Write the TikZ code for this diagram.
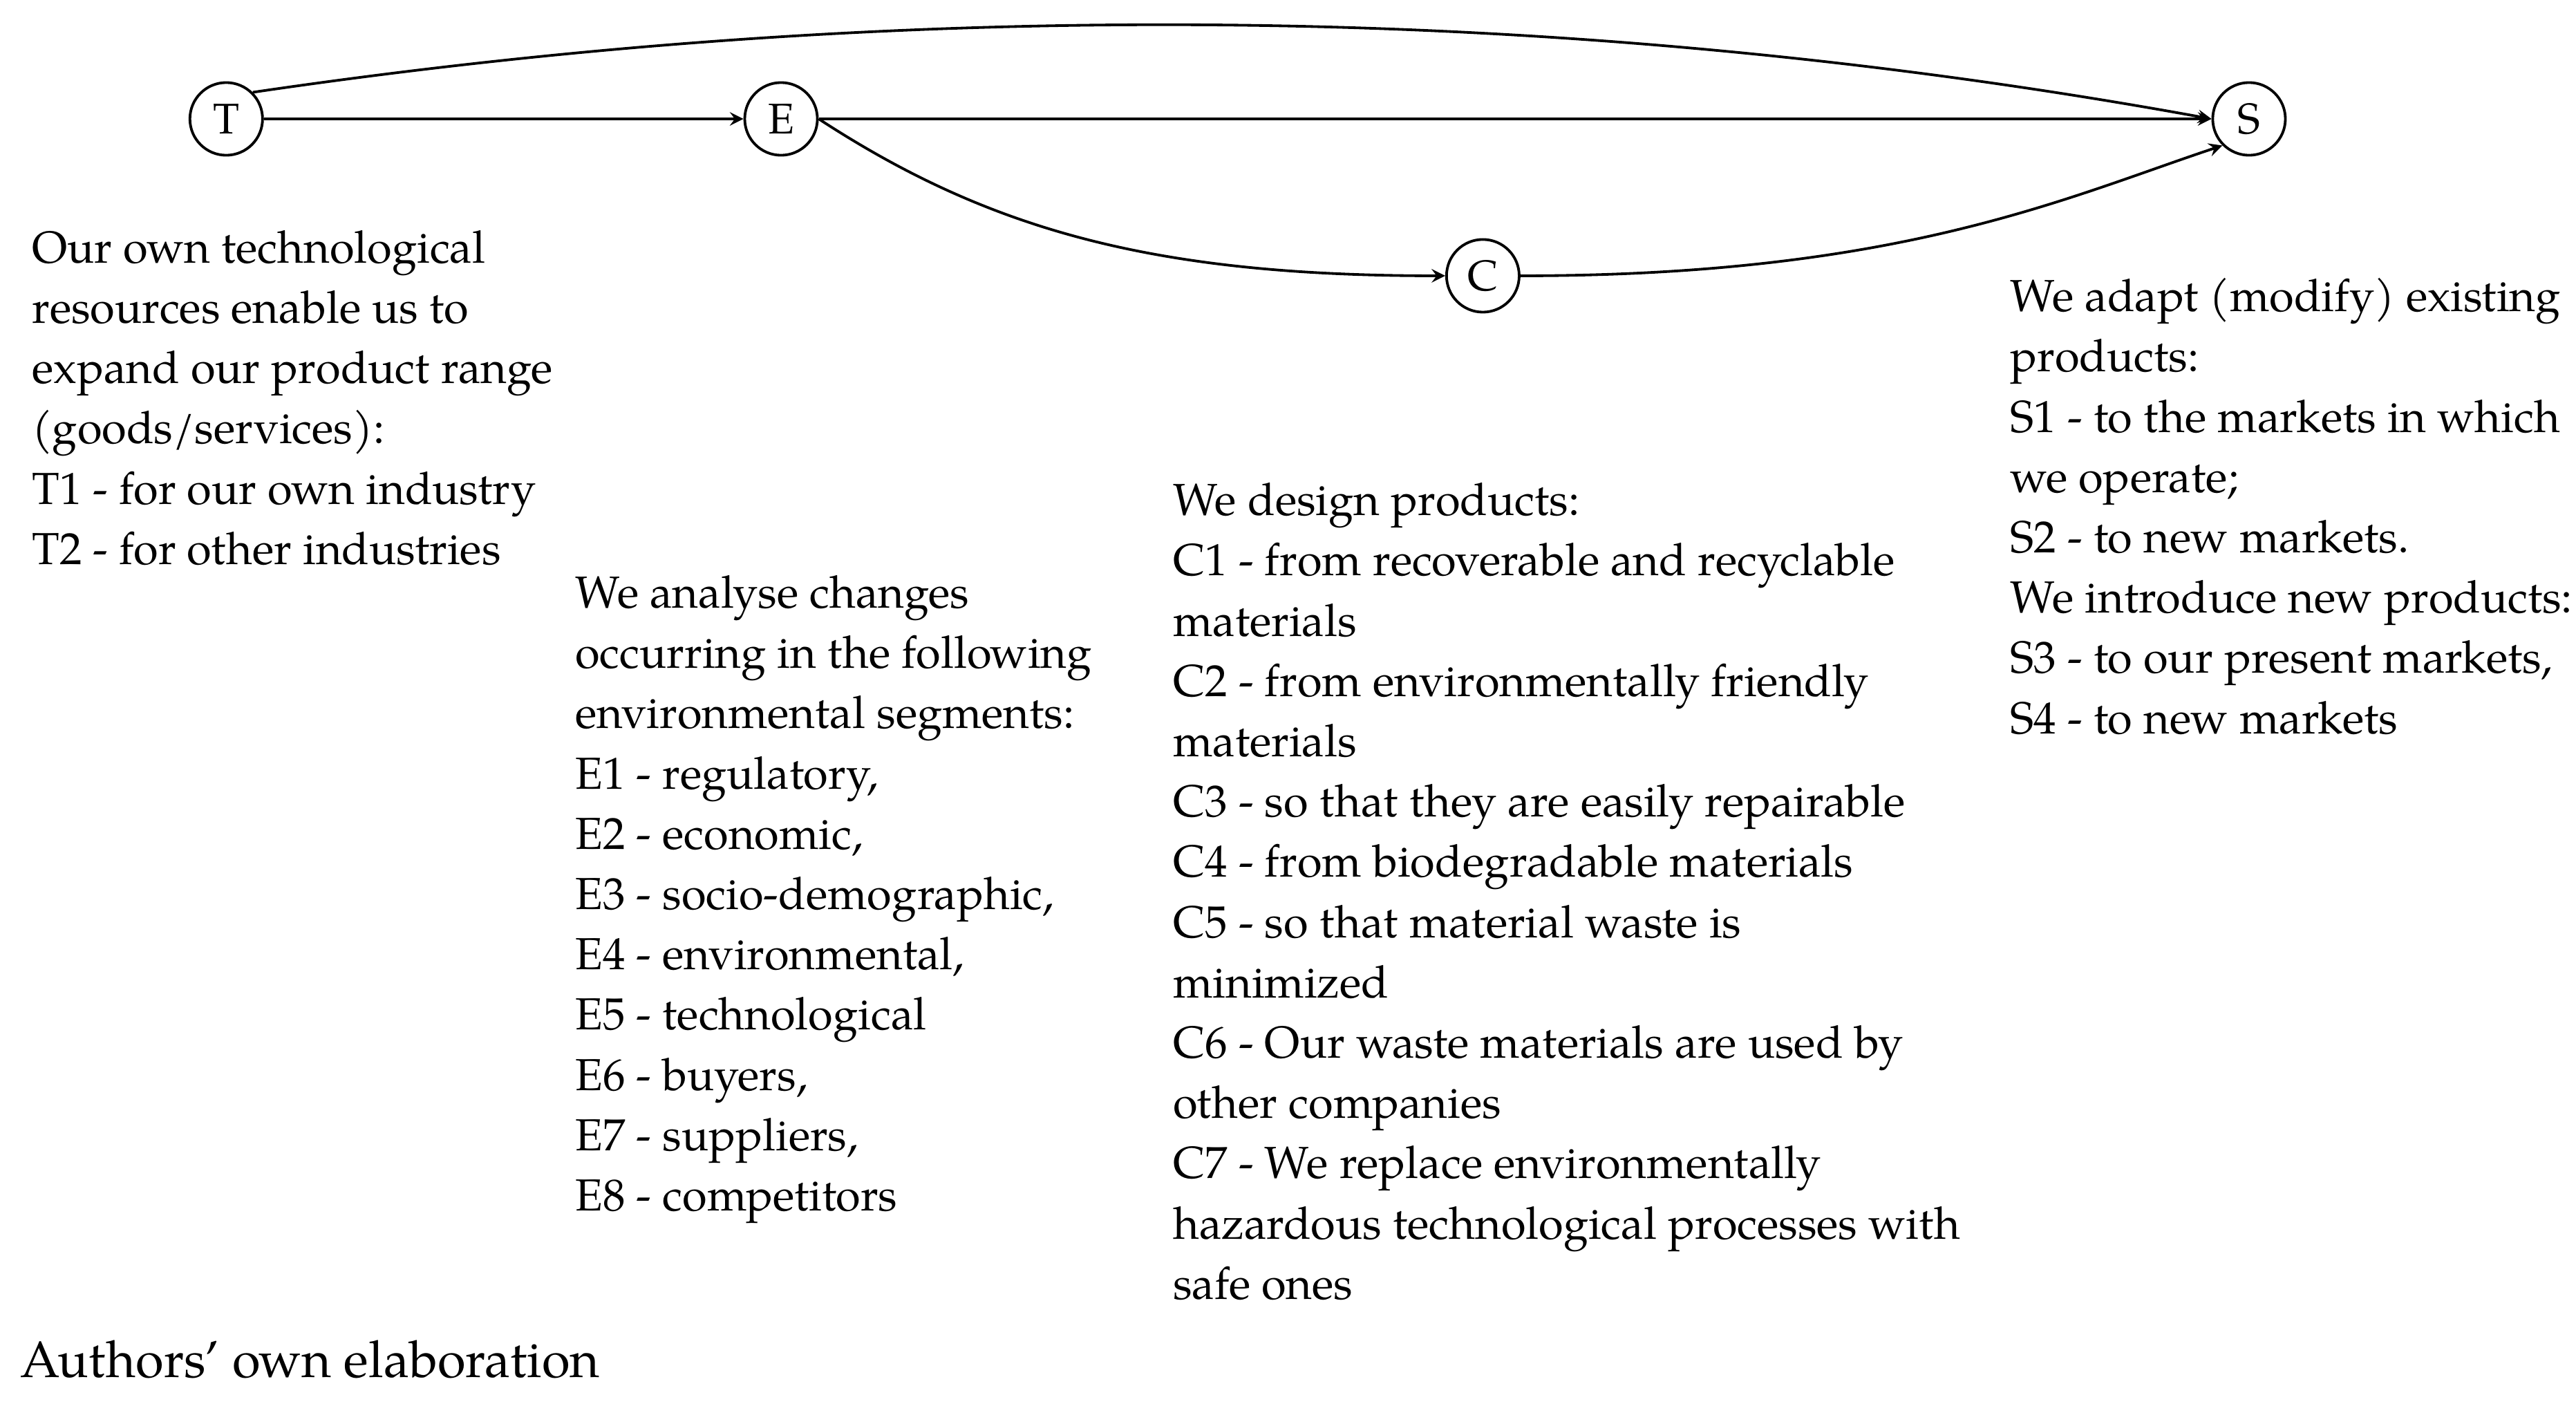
\documentclass[tikz,border=0pt]{standalone}
\usepackage{fontspec}
\setmainfont{TeX Gyre Pagella}
\begin{document}
\begin{tikzpicture}[x=0.5pt,y=-0.5pt,
  st/.style={circle,draw,line width=0.8pt,minimum size=22pt,inner sep=0pt,font=\fontsize{13}{15}\selectfont},
  blk/.style={anchor=north west,align=left,inner sep=0pt,font=\fontsize{13.6}{18.25}\selectfont},
  arr/.style={->,>=stealth,line width=0.8pt}]
\useasboundingbox (0,0) rectangle (1560,850);
\node[st] (T) at (137,72) {T};
\node[st] (E) at (473,72) {E};
\node[st] (C) at (898,167) {C};
\node[st] (S) at (1362,72) {S};
\draw[arr] (T) -- (E);
\draw[arr] (E) -- (S);
\draw[arr] (T.north east) .. controls (600,-10) and (1000,10) .. (S.west);
\draw[arr] (E.east) .. controls (600,140) and (700,167) .. (C.west);
\draw[arr] (C.east) .. controls (1150,167) and (1250,120) .. (S.south west);
\node[blk] (tt) at (19,139) {Our own technological\\resources enable us to\\expand our product range\\(goods/services):\\T1 - for our own industry\\T2 - for other industries};
\node[blk] (et) at (348,348) {We analyse changes\\occurring in the following\\environmental segments:\\E1 - regulatory,\\E2 - economic,\\E3 - socio-demographic,\\E4 - environmental,\\E5 - technological\\E6 - buyers,\\E7 - suppliers,\\E8 - competitors};
\node[blk] (ct) at (710,292) {We design products:\\C1 - from recoverable and recyclable\\materials\\C2 - from environmentally friendly\\materials\\C3 - so that they are easily repairable\\C4 - from biodegradable materials\\C5 - so that material waste is\\minimized\\C6 - Our waste materials are used by\\other companies\\C7 - We replace environmentally\\hazardous technological processes with\\safe ones};
\node[blk] (st) at (1217,168) {We adapt (modify) existing\\products:\\S1 - to the markets in which\\we operate;\\S2 - to new markets.\\We introduce new products:\\S3 - to our present markets,\\S4 - to new markets};
\node[blk,font=\fontsize{15.5}{18}\selectfont] (ft) at (12,811) {Authors’ own elaboration};
\end{tikzpicture}
\end{document}
